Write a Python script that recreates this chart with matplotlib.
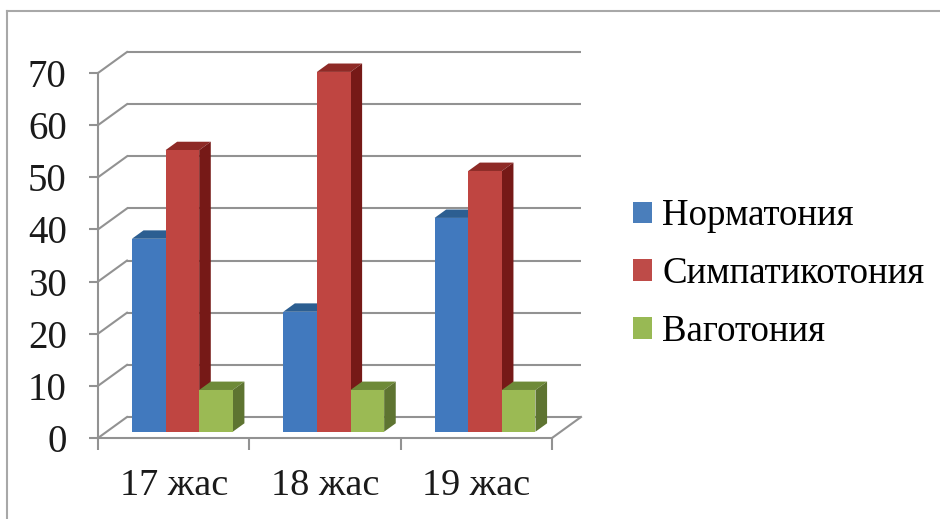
import matplotlib.pyplot as plt
from matplotlib.patches import Polygon, Patch
from matplotlib.lines import Line2D

# Data
ages = ['17 жас', '18 жас', '19 жас']
series_names = ['Норматония', 'Симпатикотония', 'Ваготония']
normatonia = [37, 23, 41]
sympathicotonia = [54, 69, 50]
vagotonia = [8, 8, 8]

# front / top / side shades for each series
front_colors = ['#4179BE', '#BF4541', '#9BBA54']
top_colors = ['#2C5E91', '#8E2A26', '#6E8A38']
side_colors = ['#23507F', '#761917', '#5E7431']
legend_colors = ['#4A7EBB', '#BE4B48', '#98B954']

grid_color = '#929292'
FONT = 'Liberation Serif'

W, H = 940, 519
fig = plt.figure(figsize=(W / 100, H / 100), dpi=100)

# axes = front plane of the 3D box
left, right, bottom, top = 98, 552, 438, 73
ax = fig.add_axes([left / W, 1 - bottom / H, (right - left) / W, (bottom - top) / H])
ymax = 70
ax.set_xlim(0, 3)
ax.set_ylim(0, ymax)

# depth of the box in data units
DX = 29 / (right - left) * 3
DY = 21 / (bottom - top) * ymax

# walls: back gridlines, side wall diagonals, floor edges
for v in range(0, ymax + 1, 10):
    ax.plot([DX, 3 + DX], [v + DY, v + DY], color=grid_color, lw=1.5,
            clip_on=False, zorder=1, solid_capstyle='butt')
    ax.plot([0, DX], [v, v + DY], color=grid_color, lw=1.5,
            clip_on=False, zorder=1)
ax.plot([3, 3 + DX], [0, DY], color=grid_color, lw=1.5, clip_on=False, zorder=1)

# bars (gap width 150%, gap depth 150%)
bw = 1 / 4.5
d0, d1 = 0.3, 0.7
series = [normatonia, sympathicotonia, vagotonia]
for i in range(len(ages)):
    for j, vals in enumerate(series):
        h = vals[i]
        x0 = i + 0.75 * bw + j * bw + d0 * DX
        y0 = d0 * DY
        x1 = x0 + bw
        ddx = (d1 - d0) * DX
        ddy = (d1 - d0) * DY
        z = 3 + i * 3 + j
        top_face = [(x0, y0 + h), (x1, y0 + h), (x1 + ddx, y0 + h + ddy), (x0 + ddx, y0 + h + ddy)]
        side_face = [(x1, y0), (x1 + ddx, y0 + ddy), (x1 + ddx, y0 + h + ddy), (x1, y0 + h)]
        front_face = [(x0, y0), (x1, y0), (x1, y0 + h), (x0, y0 + h)]
        ax.add_patch(Polygon(top_face, closed=True, facecolor=top_colors[j],
                             edgecolor='none', clip_on=False, zorder=z))
        ax.add_patch(Polygon(side_face, closed=True, facecolor=side_colors[j],
                             edgecolor='none', clip_on=False, zorder=z))
        ax.add_patch(Polygon(front_face, closed=True, facecolor=front_colors[j],
                             edgecolor='none', clip_on=False, zorder=z))

# axes styling
for s in ['top', 'right']:
    ax.spines[s].set_visible(False)
for s in ['left', 'bottom']:
    ax.spines[s].set_color(grid_color)
    ax.spines[s].set_linewidth(1.5)
ax.set_facecolor('none')

ax.set_yticks(range(0, ymax + 1, 10))
ax.tick_params(axis='y', direction='out', length=6.5, width=1.5, color=grid_color,
               pad=16, labelsize=28, labelcolor='#1a1a1a')
ax.set_xticks([0, 1, 2, 3])
ax.set_xticklabels([])
ax.set_xticks([0.5, 1.5, 2.5], minor=True)
ax.set_xticklabels(ages, minor=True)
ax.tick_params(axis='x', which='major', direction='out', length=8.6, width=1.5,
               color=grid_color)
ax.tick_params(axis='x', which='minor', length=0, pad=22, labelsize=27.5,
               labelcolor='#1a1a1a')
for lab in ax.get_yticklabels() + ax.get_xticklabels(minor=True):
    lab.set_fontfamily(FONT)

# legend
handles = [Patch(facecolor=c, edgecolor='none') for c in legend_colors]
fig.legend(handles, series_names, loc='upper left',
           bbox_to_anchor=(633 / W, 1 - 199 / H), frameon=False,
           prop={'family': FONT, 'size': 26.6}, borderpad=0, borderaxespad=0,
           handlelength=0.52, handleheight=0.52, handletextpad=0.27,
           labelspacing=0.63)

# outer border
fig.add_artist(Line2D([7 / W, 7 / W], [0, 1 - 11 / H], transform=fig.transFigure,
                      color='#A8A8A8', lw=1.5))
fig.add_artist(Line2D([7 / W, 1], [1 - 11 / H, 1 - 11 / H], transform=fig.transFigure,
                      color='#A8A8A8', lw=1.5))

fig.savefig('out.png', dpi=100)
